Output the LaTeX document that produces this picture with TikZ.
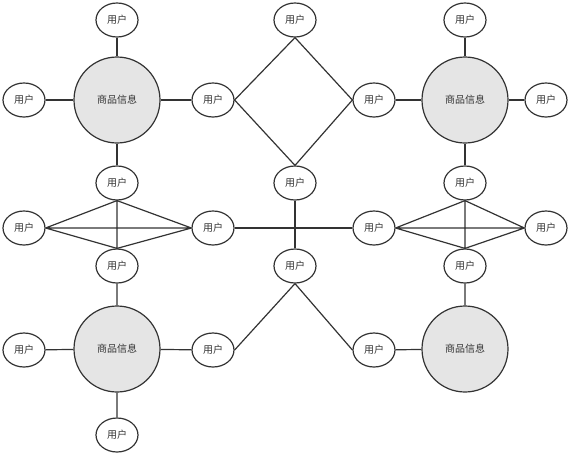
\documentclass[tikz,border=0pt]{standalone}
\usepackage{fontspec}
\usetikzlibrary{shapes.geometric}
\newfontfamily\cjk{Noto Sans CJK SC}
\begin{document}
\begin{tikzpicture}[x=1pt,y=-1pt,
  every node/.style={font=\cjk\fontsize{10}{12}\selectfont, text=black!80},
  user/.style={ellipse, draw=black!80, line width=1.2pt, fill=white, minimum width=42pt, minimum height=34pt, inner sep=0pt},
  goods/.style={circle, draw=black!80, line width=1.2pt, fill=black!10, minimum size=86pt, inner sep=0pt},
  link/.style={draw=black!80, line width=1.2pt}]
\useasboundingbox (0,0) rectangle (574,456);
\node[goods] (C1) at (117,100) {商品信息};
\node[goods] (C2) at (465,100) {商品信息};
\node[goods] (C3) at (117,349) {商品信息};
\node[goods] (C4) at (465,349) {商品信息};
\node[user] (u1) at (117,20) {用户};
\node[user] (u2) at (24,100) {用户};
\node[user] (u3) at (213,100) {用户};
\node[user] (u4) at (117,183) {用户};
\node[user] (u5) at (295,20) {用户};
\node[user] (u6) at (295,183) {用户};
\node[user] (u7) at (465,20) {用户};
\node[user] (u8) at (374,100) {用户};
\node[user] (u9) at (546,100) {用户};
\node[user] (u10) at (465,183) {用户};
\node[user] (u11) at (24,228) {用户};
\node[user] (u12) at (213,228) {用户};
\node[user] (u13) at (117,266) {用户};
\node[user] (u14) at (295,266) {用户};
\node[user] (u15) at (374,228) {用户};
\node[user] (u16) at (546,228) {用户};
\node[user] (u17) at (465,266) {用户};
\node[user] (u18) at (24,350) {用户};
\node[user] (u19) at (213,350) {用户};
\node[user] (u20) at (117,435) {用户};
\node[user] (u21) at (374,350) {用户};
\path[link] (C1) -- (u1) (C1) -- (u2) (C1) -- (u3) (C1) -- (u4);
\path[link] (C2) -- (u7) (C2) -- (u8) (C2) -- (u9) (C2) -- (u10);
\path[link] (C3) -- (u13) (C3) -- (u18) (C3) -- (u19) (C3) -- (u20);
\path[link] (C4) -- (u17) (C4) -- (u21);
\path[link] (u3.east) -- (u5.south) -- (u8.west) -- (u6.north) -- cycle;
\path[link] (u11.east) -- (u4.south) (u11.east) -- (u12.west) (u11.east) -- (u13.north)
  (u4.south) -- (u12.west) (u4.south) -- (u13.north) (u12.west) -- (u13.north);
\path[link] (u15.east) -- (u10.south) (u15.east) -- (u16.west) (u15.east) -- (u17.north)
  (u10.south) -- (u16.west) (u10.south) -- (u17.north) (u16.west) -- (u17.north);
\path[link] (u12.east) -- (u15.west);
\path[link] (u6.south) -- (u14.north);
\path[link] (u14.south) -- (u19.east) (u14.south) -- (u21.west);
\end{tikzpicture}
\end{document}
